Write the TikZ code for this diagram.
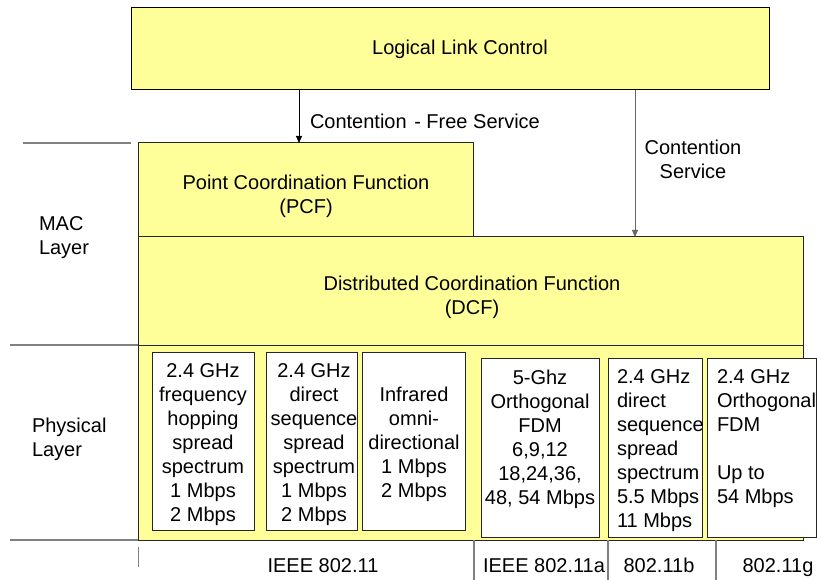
\documentclass[tikz,border=0pt]{standalone}
\usepackage{fontspec}
\setmainfont{Liberation Sans}
\usetikzlibrary{arrows.meta}
\definecolor{boxyellow}{HTML}{FFFF99}
\definecolor{edgegray}{HTML}{808080}
\begin{document}
\begin{tikzpicture}[x=1pt,y=-1pt,
  every node/.style={font=\fontsize{20}{24}\selectfont, inner sep=0pt, outer sep=0pt},
  yellowbox/.style={rectangle, draw=black!85, line width=1pt, fill=boxyellow, anchor=north west},
  whitebox/.style={rectangle, draw=black!85, line width=1pt, fill=white, anchor=north west},
  rule/.style={draw=edgegray, line width=1.2pt},
  arr/.style={-{Triangle[length=7pt,width=6pt]}, line width=0.9pt},
  ctext/.style={align=center, anchor=north},
  ltext/.style={align=left, anchor=north west}]
\useasboundingbox (0,0) rectangle (817,580);

% upper layer
\node[yellowbox, draw=black, minimum width=638pt, minimum height=82pt] (llc) at (131,8) {};
\node (llct) at (460,49) {Logical Link Control};

% MAC layer blocks
\node[yellowbox, minimum width=665pt, minimum height=195pt] (phy) at (138,345) {};
\node[yellowbox, minimum width=665pt, minimum height=108pt] (dcf) at (138,237) {};
\node[yellowbox, minimum width=335pt, minimum height=94pt] (pcf) at (138,143) {};
\node[align=center] (pcft) at (306,196) {Point Coordination Function\\(PCF)};
\node[align=center] (dcft) at (472,297) {Distributed Coordination Function\\(DCF)};

% service arrows
\coordinate (freex) at (299,0);
\coordinate (contx) at (635,0);
\draw[arr] (freex |- llc.south) -- (freex |- pcf.north);
\draw[arr, draw=black!60] (contx |- llc.south) -- (contx |- dcf.north);
\node[anchor=base west] (freel) at (310,129) {Contention\hspace{2pt} - Free Service};
\node[ctext] (contl) at (693,140.5) {Contention\\Service};

% layer rules and labels
\draw[rule] (23,143) -- (131,143);
\draw[rule] (10,345) -- (phy.north west);
\draw[rule] (10,540) -- (phy.south west);
\draw[rule] (474,540) -- (474,580);
\draw[rule] (608,540) -- (608,580);
\draw[rule] (716,540) -- (716,580);
\draw[rule, line width=0.8pt] (138,547) -- (138,567);
\node[align=left, anchor=west] (macl) at (39,238) {MAC\\Layer};
\node[align=left, anchor=west] (phyl) at (32,439) {Physical\\Layer};

% physical layer options
\node[whitebox, minimum width=102pt, minimum height=178pt] (b1) at (152,352) {};
\node[whitebox, minimum width=91pt, minimum height=178pt] (b2) at (266,352) {};
\node[whitebox, minimum width=103pt, minimum height=178pt] (b3) at (362,352) {};
\node[whitebox, minimum width=118pt, minimum height=179pt] (b4) at (481,358) {};
\node[whitebox, minimum width=94pt, minimum height=179pt] (b5) at (608,358) {};
\node[whitebox, minimum width=109pt, minimum height=179pt] (b6) at (707,358) {};

\node[ctext] (t1) at (203,363.7) {2.4 GHz\\frequency\\hopping\\spread\\spectrum\\1 Mbps\\2 Mbps};
\node[ctext] (t2) at (314,363.7) {2.4 GHz\\direct\\sequence\\spread\\spectrum\\1 Mbps\\2 Mbps};
\node[ctext] (t3) at (414,386.7) {Infrared\\omni-\\directional\\1 Mbps\\2 Mbps};
\node[ctext] (t4) at (540,369.7) {5-Ghz\\Orthogonal\\FDM\\6,9,12\\18,24,36,\\48, 54 Mbps};
\node[ltext] (t5) at (617,369.7) {2.4 GHz\\direct\\sequence\\spread\\spectrum\\5.5 Mbps\\11 Mbps};
\node[ltext] (t6) at (717,369.7) {2.4 GHz\\Orthogonal\\FDM\\[24pt]Up to\\54 Mbps};

% standards
\node[anchor=base] (s1) at (323,572) {IEEE 802.11};
\node[anchor=base] (s2) at (544,572) {IEEE 802.11a};
\node[anchor=base] (s3) at (659,572) {802.11b};
\node[anchor=base] (s4) at (778,572) {802.11g};
\end{tikzpicture}
\end{document}
